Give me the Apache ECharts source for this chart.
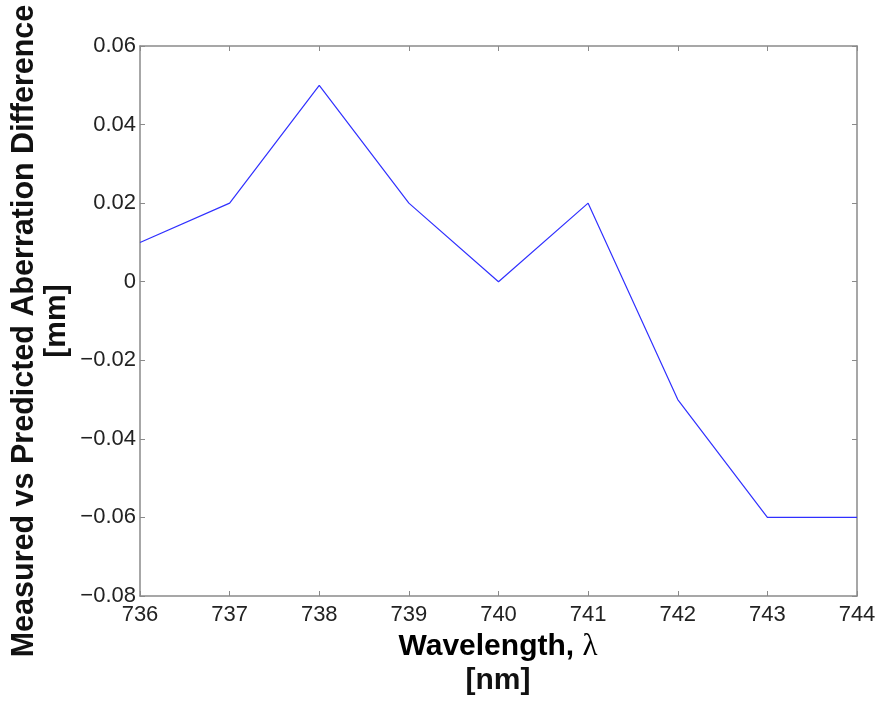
<!DOCTYPE html>
<html><head><meta charset="utf-8">
<script src="https://cdn.jsdelivr.net/npm/echarts@6/dist/echarts.min.js"></script>
<style>html,body{margin:0;padding:0;background:#fff}#c{width:881px;height:704px}</style>
</head><body><div id="c"></div>
<script>
var wavelengths = [736, 737, 738, 739, 740, 741, 742, 743, 744];
var differences = [0.01, 0.02, 0.05, 0.02, 0, 0.02, -0.03, -0.06, -0.06];
var xTitle = ['Wavelength, ', '\u03bb', '[nm]'];
var yTitle = ['Measured vs Predicted Aberration Difference', '[mm]'];

var chart = echarts.init(document.getElementById('c'));
var axisCol = '#8a8a8a';
function fmtY(v){ if (Math.abs(v) < 1e-9) return '0'; return v.toFixed(2).replace('-', '\u2212'); }
var tickFont = {fontFamily: 'Liberation Sans, Arial, sans-serif', fontSize: 22, color: '#222'};
var titleFont = {fontFamily: 'Liberation Sans, Arial, sans-serif', fontSize: 30, fontWeight: 'bold', fill: '#111'};
var opt = {
  animation: false,
  backgroundColor: '#fff',
  grid: {left: 140, top: 46, right: 24, bottom: 108, containLabel: false},
  xAxis: [{
    type: 'value', min: 736, max: 744, interval: 1, position: 'bottom',
    axisLine: {show: true, onZero: false, lineStyle: {color: axisCol, width: 1.5}},
    axisTick: {show: true, inside: true, length: 5, lineStyle: {color: axisCol}},
    axisLabel: Object.assign({margin: 8}, tickFont),
    splitLine: {show: false}
  }, {
    type: 'value', min: 736, max: 744, interval: 1, position: 'top',
    axisLine: {show: true, onZero: false, lineStyle: {color: axisCol, width: 1.5}},
    axisTick: {show: true, inside: true, length: 5, lineStyle: {color: axisCol}},
    axisLabel: {show: false}, splitLine: {show: false}
  }],
  yAxis: [{
    type: 'value', min: -0.08, max: 0.06, interval: 0.02, position: 'left',
    axisLine: {show: true, onZero: false, lineStyle: {color: axisCol, width: 1.5}},
    axisTick: {show: true, inside: true, length: 5, lineStyle: {color: axisCol}},
    axisLabel: Object.assign({margin: 4, formatter: fmtY}, tickFont),
    splitLine: {show: false}
  }, {
    type: 'value', min: -0.08, max: 0.06, interval: 0.02, position: 'right',
    axisLine: {show: true, onZero: false, lineStyle: {color: axisCol, width: 1.5}},
    axisTick: {show: true, inside: true, length: 5, lineStyle: {color: axisCol}},
    axisLabel: {show: false}, splitLine: {show: false}
  }],
  series: [{
    type: 'line', xAxisIndex: 0, yAxisIndex: 0,
    data: wavelengths.map(function(w, i){ return [w, differences[i]]; }),
    showSymbol: false, symbol: 'none',
    lineStyle: {color: '#3030ff', width: 1.2}
  }],
  graphic: [
    {type: 'text', style: {
      text: '{a|' + xTitle[0] + '}{b|' + xTitle[1] + '}', x: 498, y: 647,
      textAlign: 'center', textVerticalAlign: 'middle',
      rich: {
        a: {fontFamily: 'Liberation Sans, Arial, sans-serif', fontSize: 30, fontWeight: 'bold', color: '#111'},
        b: {fontFamily: 'Liberation Serif, Times New Roman, serif', fontSize: 31, fontWeight: 'normal', color: '#111'}
      }
    }},
    {type: 'text', style: Object.assign({text: xTitle[2], x: 498, y: 681, textAlign: 'center', textVerticalAlign: 'middle'}, titleFont)},
    {type: 'text', x: 25, y: 331, rotation: Math.PI/2, style: Object.assign({text: yTitle[0], x: 0, y: 0, textAlign: 'center', textVerticalAlign: 'middle'}, titleFont, {fontSize: 30.5})},
    {type: 'text', x: 57, y: 321, rotation: Math.PI/2, style: Object.assign({text: yTitle[1], x: 0, y: 0, textAlign: 'center', textVerticalAlign: 'middle'}, titleFont)}
  ]
};
chart.setOption(opt);
</script></body></html>
